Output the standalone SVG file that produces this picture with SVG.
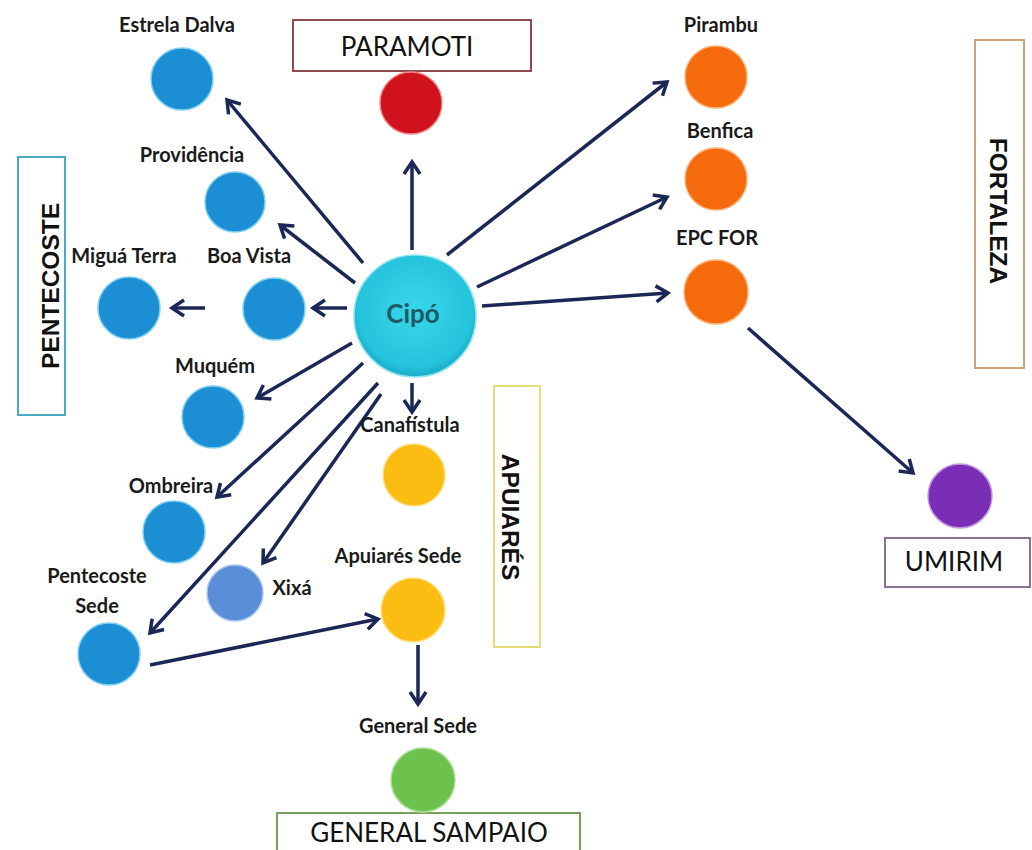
<svg xmlns="http://www.w3.org/2000/svg" width="1032" height="850" viewBox="0 0 1032 850">
<defs>
<style>
.lbl{font-family:Lato,"Open Sans","Liberation Sans",sans-serif;font-weight:700;font-size:20px;fill:#1a1a1a;text-anchor:middle}
.ttl{font-family:Lato,"Liberation Sans",sans-serif;font-weight:400;font-size:26px;fill:#111;text-anchor:middle}
.vt{font-family:"Liberation Sans",Arial,sans-serif;font-weight:700;font-size:24.5px;fill:#111;text-anchor:middle}
.box{fill:#fff;stroke-width:2}
.conn line{stroke:#1b2757;stroke-width:3.5;marker-end:url(#ah)}
.blue{fill:#1c8fd4;stroke:#7fd0f0;stroke-width:1.5}
.orange{fill:#f56a0c;stroke:#f9b27a;stroke-width:1.5}
.yellow{fill:#fbbd12;stroke:#fde08a;stroke-width:1.5}
</style>
<marker id="ah" markerUnits="userSpaceOnUse" markerWidth="20" markerHeight="20" refX="15" refY="10" orient="auto">
<path d="M3,2 L15,10 L3,18" fill="none" stroke="#1b2757" stroke-width="3.5" stroke-linejoin="miter"/>
</marker>
<radialGradient id="cipoG" cx="50%" cy="45%" r="55%">
<stop offset="0%" stop-color="#3ad6ea"/>
<stop offset="85%" stop-color="#25c3dc"/>
<stop offset="100%" stop-color="#1aa9c4"/>
</radialGradient>
</defs>
<rect width="1032" height="850" fill="#fff"/>

<g id="connectors" class="conn">
<line x1="363" y1="263" x2="227" y2="100"/>
<line x1="412" y1="250" x2="412" y2="162"/>
<line x1="355" y1="283" x2="280" y2="225"/>
<line x1="347" y1="308" x2="313" y2="308"/>
<line x1="205" y1="308" x2="172" y2="308"/>
<line x1="352" y1="343" x2="257" y2="398"/>
<line x1="363" y1="363" x2="217" y2="497"/>
<line x1="378" y1="383" x2="150" y2="633"/>
<line x1="381" y1="394" x2="263" y2="563"/>
<line x1="412" y1="383" x2="412" y2="412"/>
<line x1="150" y1="665" x2="378" y2="619"/>
<line x1="418" y1="645" x2="418" y2="704"/>
<line x1="447" y1="255" x2="667" y2="82"/>
<line x1="477" y1="287" x2="667" y2="197"/>
<line x1="482" y1="306" x2="668" y2="293"/>
<line x1="748" y1="328" x2="913" y2="473"/>
</g>

<g id="paramoti-box">
<rect class="box" x="293" y="20" width="238" height="51" stroke="#8e4a4f"/>
<text class="ttl" x="407" y="56">PARAMOTI</text>
</g>
<g id="pentecoste-box">
<rect class="box" x="18" y="157" width="47" height="258" stroke="#4aaac4"/>
<text class="vt" transform="translate(59,286) rotate(-90)">PENTECOSTE</text>
</g>
<g id="apuiares-box">
<rect class="box" x="494" y="386" width="46" height="261" stroke="#e8dc78"/>
<text class="vt" transform="translate(502,517) rotate(90)">APUIARÉS</text>
</g>
<g id="fortaleza-box">
<rect class="box" x="975" y="40" width="49" height="328" stroke="#c9a47a"/>
<text class="vt" transform="translate(990,211) rotate(90)">FORTALEZA</text>
</g>
<g id="umirim-box">
<rect class="box" x="885" y="538" width="145" height="49" stroke="#8c7290"/>
<text class="ttl" x="954" y="571">UMIRIM</text>
</g>
<g id="general-sampaio-box">
<rect class="box" x="277" y="813" width="303" height="45" stroke="#77a05a"/>
<text class="ttl" x="429" y="842">GENERAL SAMPAIO</text>
</g>

<g id="cipo">
<circle cx="415" cy="316" r="61" fill="url(#cipoG)" stroke="#8fe6f2" stroke-width="1.5"/>
<text class="lbl" x="413" y="323" style="font-size:26px;fill:#1f5a69">Cipó</text>
</g>
<g id="estrela-dalva">
<circle class="blue" cx="182" cy="79" r="31"/>
<text class="lbl" x="177" y="32">Estrela Dalva</text>
</g>
<g id="paramoti">
<circle cx="411" cy="103" r="31" fill="#d0121c" stroke="#f08a8a" stroke-width="1.5"/>
</g>
<g id="providencia">
<circle class="blue" cx="235" cy="202" r="30"/>
<text class="lbl" x="192" y="162">Providência</text>
</g>
<g id="migua-terra">
<circle class="blue" cx="129" cy="308" r="31"/>
<text class="lbl" x="124" y="263">Miguá Terra</text>
</g>
<g id="boa-vista">
<circle class="blue" cx="274" cy="309" r="31"/>
<text class="lbl" x="249" y="263">Boa Vista</text>
</g>
<g id="muquem">
<circle class="blue" cx="213" cy="417" r="31"/>
<text class="lbl" x="215" y="373">Muquém</text>
</g>
<g id="ombreira">
<circle class="blue" cx="174" cy="532" r="31"/>
<text class="lbl" x="171" y="493">Ombreira</text>
</g>
<g id="pentecoste-sede">
<circle class="blue" cx="109" cy="654" r="31"/>
<text class="lbl" x="97" y="583">Pentecoste</text>
<text class="lbl" x="97" y="613">Sede</text>
</g>
<g id="xixa">
<circle cx="235" cy="593" r="28" fill="#5a8ed8" stroke="#a8c8f0" stroke-width="1.5"/>
<text class="lbl" x="292" y="595">Xixá</text>
</g>
<g id="canafistula">
<circle class="yellow" cx="414" cy="475" r="31"/>
<text class="lbl" x="410" y="432">Canafístula</text>
</g>
<g id="apuiares-sede">
<circle class="yellow" cx="413" cy="610" r="32"/>
<text class="lbl" x="398" y="563">Apuiarés Sede</text>
</g>
<g id="general-sede">
<circle cx="423" cy="780" r="32" fill="#6cc24c" stroke="#b0e09a" stroke-width="1.5"/>
<text class="lbl" x="418" y="733">General Sede</text>
</g>
<g id="pirambu">
<circle class="orange" cx="716" cy="77" r="31"/>
<text class="lbl" x="721" y="32">Pirambu</text>
</g>
<g id="benfica">
<circle class="orange" cx="716" cy="179" r="31"/>
<text class="lbl" x="720" y="138">Benfica</text>
</g>
<g id="epc-for">
<circle class="orange" cx="716" cy="292" r="32"/>
<text class="lbl" x="717" y="245">EPC FOR</text>
</g>
<g id="umirim">
<circle cx="960" cy="496" r="32" fill="#7a2db5" stroke="#c59ae0" stroke-width="1.5"/>
</g>
</svg>
